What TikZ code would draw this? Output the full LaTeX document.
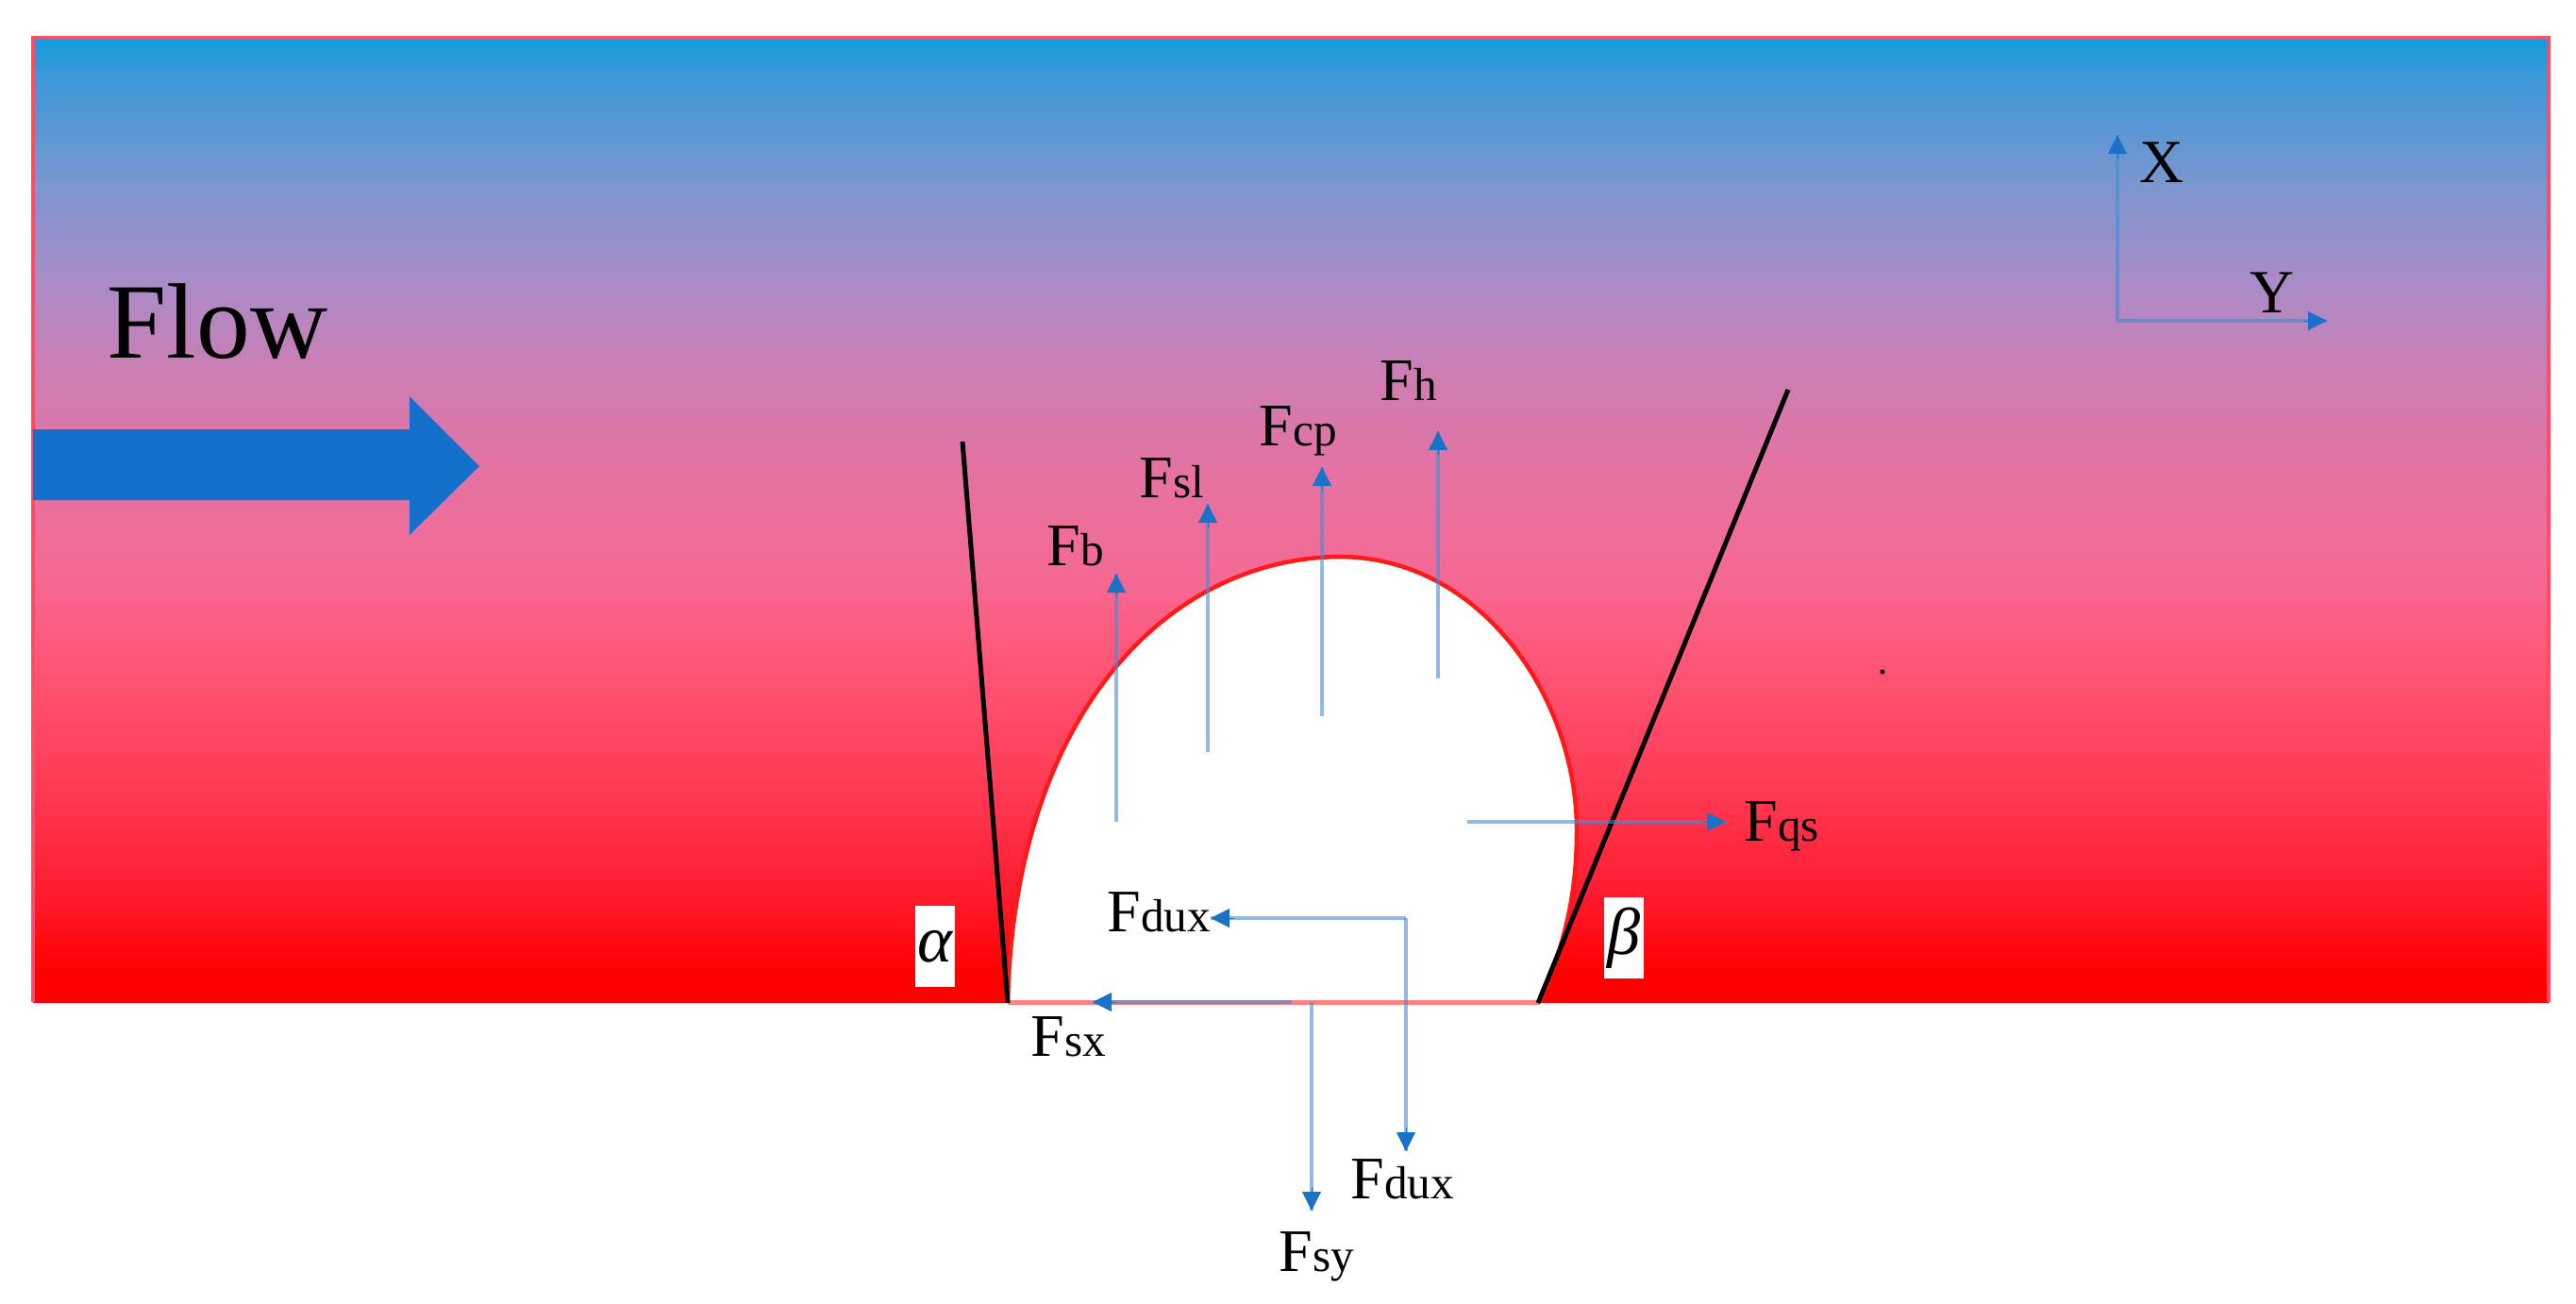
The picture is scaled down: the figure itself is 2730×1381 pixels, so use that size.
\documentclass[tikz,border=0pt]{standalone}
\usepackage{fontspec}
\setmainfont{Liberation Serif}
\usetikzlibrary{arrows.meta,calc}
\definecolor{ca}{RGB}{255,0,0}
\definecolor{cb}{RGB}{255,30,50}
\definecolor{cc}{RGB}{255,60,85}
\definecolor{cd}{RGB}{255,88,122}
\definecolor{ce}{RGB}{245,105,148}
\definecolor{cf}{RGB}{228,115,162}
\definecolor{cg}{RGB}{205,125,178}
\definecolor{ch}{RGB}{168,140,200}
\definecolor{ci}{RGB}{122,150,208}
\definecolor{cj}{RGB}{60,152,215}
\definecolor{ck}{RGB}{30,155,220}
\definecolor{cl}{RGB}{5,160,228}
\definecolor{edgered}{RGB}{255,75,100}
\definecolor{forcehead}{RGB}{26,114,200}
\definecolor{forceline}{RGB}{70,140,210}
\definecolor{flowblue}{RGB}{21,112,204}
\pgfdeclareverticalshading{flowfield}{100bp}{
 color(0bp)=(ca); color(26.5bp)=(ca); color(31bp)=(cb); color(36.4bp)=(cc);
 color(43.2bp)=(cd); color(47.1bp)=(ce); color(52.5bp)=(cf); color(57.5bp)=(cg);
 color(62.5bp)=(ch); color(67.5bp)=(ci); color(73bp)=(cj); color(74.5bp)=(ck); color(75bp)=(cl); color(100bp)=(cl)}
\tikzset{
 forceshaft/.style={draw=forceline,draw opacity=.6,line width=4.5*0.2845pt},
 forcetip/.style={draw=forcehead,line width=1*0.2845pt,
   -{Triangle[length=20*0.2845pt,width=20*0.2845pt,color=forcehead]}},
 angleline/.style={draw=black,line width=5*0.2845pt},
 forcelabel/.style={anchor=base west,inner sep=0pt,text=black},
 anglebox/.style={fill=white,inner sep=0pt,minimum width=42*0.2845pt,minimum height=86*0.2845pt,font=\fontsize{20}{20}\selectfont\itshape}
}
\newcommand{\flab}[1]{{\fontsize{18.2}{18.2}\selectfont F}{\fontsize{14}{14}\selectfont #1}}
\newcommand{\forcearrow}[2]{\draw[forceshaft] (#1) -- (#2);\draw[forcetip] ($(#2)!25*0.2845pt!(#1)$) -- (#2);}
\begin{document}
\begin{tikzpicture}[x=0.01cm,y=-0.01cm]
\useasboundingbox (0,0) rectangle (2730,1381);
\path[fill=white] (0,0) rectangle (2730,1381);
% field
\path[shading=flowfield] (35,40) rectangle (2701,1062);
\draw[edgered,line width=3.5*0.2845pt] (35,1062) -- (35,40) -- (2701,40) -- (2701,1062);
% droplet
\path[fill=white,draw=red!90!white,line width=4.5*0.2845pt]
 (1068,1062) .. controls (1075,760) and (1235,592) .. (1419,590)
 .. controls (1570,590) and (1671,740) .. (1671,880)
 .. controls (1671,950) and (1658,1000) .. (1632,1062);
\draw[draw=red!50!white,line width=5*0.2845pt] (1068,1062) -- (1632,1062);
% angle lines
\coordinate (la) at (1020,468); \coordinate (lb) at (1068,1063);
\coordinate (ra) at (1895,413); \coordinate (rb) at (1630,1063);
\draw[angleline] (la) -- (lb);
\draw[angleline] (ra) -- (rb);
% angle labels
\node[anglebox] (alpha) at (991,1003) {\raisebox{-3pt}{α}};
\node[anglebox] (beta) at (1721,994) {\raisebox{-2.5pt}{β}};
% flow arrow
\path[fill=flowblue] (35,455) -- (434,455) -- (434,420) -- (508,494) -- (434,567) -- (434,530) -- (35,530) -- cycle;
\node[anchor=base west,inner sep=0pt,font=\fontsize{32.3}{32.3}\selectfont] (flow) at (113,379) {Flow};
% coordinate axes
\coordinate (o) at (2244,340); \coordinate (xt) at (2244,143); \coordinate (yt) at (2466,340);
\forcearrow{o}{xt}
\forcearrow{o}{yt}
\node[forcelabel,font=\fontsize{18.5}{18.5}\selectfont] (xl) at (2267,193) {X};
\node[forcelabel,font=\fontsize{18.5}{18.5}\selectfont] (yl) at (2384,331) {Y};
% forces
\coordinate (fbt) at (1183,871); \coordinate (fbh) at (1183,608);
\coordinate (fst) at (1280,797); \coordinate (fsh) at (1280,534);
\coordinate (fct) at (1401,759); \coordinate (fch) at (1401,495);
\coordinate (fht) at (1524,719); \coordinate (fhh) at (1524,457);
\coordinate (fqt) at (1555,871); \coordinate (fqh) at (1829,871);
\coordinate (fdc) at (1490,973); \coordinate (fdl) at (1283,973); \coordinate (fdd) at (1490,1220);
\coordinate (fxt) at (1369,1062); \coordinate (fxh) at (1158,1062);
\coordinate (fyt) at (1390,1062); \coordinate (fyh) at (1390,1283);
\forcearrow{fbt}{fbh}
\forcearrow{fst}{fsh}
\forcearrow{fct}{fch}
\forcearrow{fht}{fhh}
\forcearrow{fqt}{fqh}
\forcearrow{fdc}{fdl}
\forcearrow{fdc}{fdd}
\forcearrow{fxt}{fxh}
\forcearrow{fyt}{fyh}
% labels
\node[forcelabel] (lfb) at (1109,599) {\flab{b}};
\node[forcelabel] (lfsl) at (1207,527) {\flab{sl}};
\node[forcelabel] (lfcp) at (1334,472) {\flab{cp}};
\node[forcelabel] (lfh) at (1462,424) {\flab{h}};
\node[forcelabel] (lfqs) at (1848,891) {\flab{qs}};
\node[forcelabel] (lfd) at (1173,987) {\flab{dux}};
\node[forcelabel] (lfsx) at (1092,1119) {\flab{sx}};
\node[forcelabel] (lfd2) at (1431,1270) {\flab{dux}};
\node[forcelabel] (lfsy) at (1355,1347) {\flab{sy}};
% speck
\path[fill=black] (1995,712) circle (2.5);
\end{tikzpicture}
\end{document}
